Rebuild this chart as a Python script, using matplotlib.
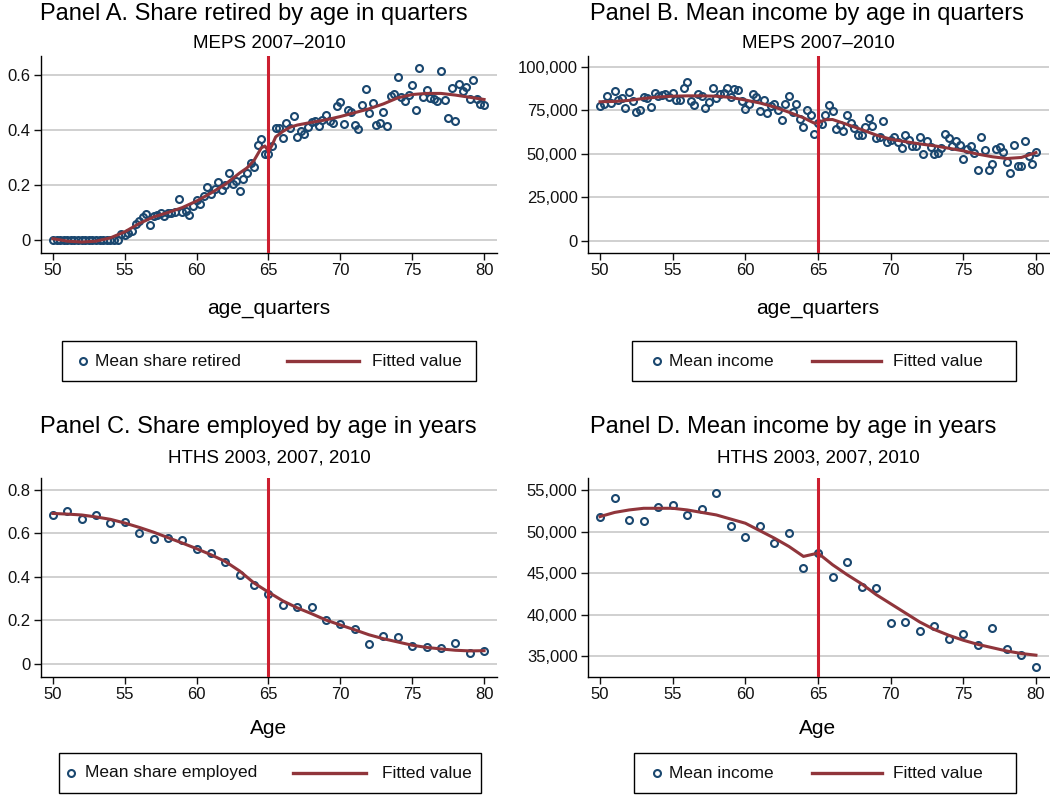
import numpy as np
import matplotlib.pyplot as plt
from matplotlib.lines import Line2D
from matplotlib.patches import Rectangle

plt.rcParams['font.family'] = ['Liberation Sans', 'DejaVu Sans']

W, H = 1050, 795
navy = '#1a476f'
fit_red = '#90353b'
cut_red = '#cc1f30'
grid_gray = '#c8c8c8'

# ---- Panel A: share retired, quarters (MEPS)
age_q = np.arange(50, 80.01, 0.25)
share_retired = [0.0, 0.0, 0.0, 0.0, 0.0, 0.0, 0.0, 0.0, 0.0, 0.0, 0.0, 0.0,
                 0.0, 0.0, 0.0, 0.0, 0.001, 0.0, 0.002, 0.023,
                 0.017, 0.027, 0.033, 0.059, 0.071, 0.084, 0.094, 0.053,
                 0.089, 0.092, 0.097, 0.086, 0.098, 0.100, 0.101, 0.150,
                 0.103, 0.107, 0.092, 0.123, 0.146, 0.132, 0.161, 0.193,
                 0.169, 0.187, 0.210, 0.181, 0.200, 0.245, 0.203, 0.214,
                 0.180, 0.223, 0.244, 0.281, 0.266, 0.346, 0.367, 0.314,
                 0.314, 0.342, 0.408, 0.408, 0.372, 0.425, 0.408, 0.451,
                 0.373, 0.398, 0.384, 0.412, 0.428, 0.433, 0.414, 0.437,
                 0.454, 0.432, 0.424, 0.488, 0.503, 0.421, 0.472, 0.467,
                 0.420, 0.404, 0.490, 0.549, 0.463, 0.497, 0.420, 0.426,
                 0.465, 0.413, 0.523, 0.530, 0.593, 0.520, 0.506, 0.526,
                 0.562, 0.471, 0.624, 0.519, 0.546, 0.517, 0.514, 0.507,
                 0.613, 0.508, 0.443, 0.552, 0.433, 0.566, 0.542, 0.558,
                 0.512, 0.583, 0.513, 0.495, 0.490]
fit_a_x = [50, 51, 52, 53, 54, 55, 56, 57, 58, 59, 60, 61, 62, 63, 63.5, 64, 64.5, 64.75,
           65, 65.25, 65.5, 66, 66.5, 67, 68, 69, 70, 71, 72, 73, 74, 75, 76, 77, 78, 79, 80]
fit_a = [0.005, -0.004, -0.007, -0.004, 0.008, 0.030, 0.060, 0.084, 0.100, 0.118, 0.142,
         0.171, 0.203, 0.244, 0.262, 0.290, 0.335, 0.342, 0.322, 0.345, 0.375, 0.395, 0.410,
         0.418, 0.428, 0.437, 0.449, 0.463, 0.477, 0.495, 0.517, 0.529, 0.533, 0.533, 0.527,
         0.519, 0.511]

# ---- Panel B: mean income, quarters (MEPS)
income_q = [77500, 78500, 83600, 79200, 86100, 81300, 81900, 76400,
            85500, 80400, 74100, 75000, 82700, 82100, 77100, 84800,
            83200, 83800, 84600, 82700, 85000, 81300, 81300, 88000,
            91200, 80400, 77900, 84600, 83200, 76400, 80000, 88000,
            81900, 84200, 85100, 88000, 82700, 87400, 86900, 80400,
            76000, 78900, 84400, 82700, 74500, 80800, 73300, 77300,
            78500, 75200, 69500, 78500, 83600, 74100, 78500, 69900,
            65500, 75000, 72400, 61700, 67800, 67200, 72200, 77900,
            74900, 64600, 66900, 63400, 72600, 67600, 65000, 61100,
            61100, 65700, 70500, 66300, 58900, 60000, 69000, 57100,
            58100, 60000, 56600, 53500, 61100, 58100, 54700, 54700,
            59600, 49700, 57300, 54100, 49700, 50700, 53500, 61500,
            59400, 54700, 57700, 55000, 47000, 53100, 54700, 50300,
            40800, 59600, 52400, 40800, 44200, 52600, 53900, 51000,
            45500, 39200, 55200, 42900, 43200, 57500, 48800, 44400,
            51200]
fit_b_x = [50, 51, 52, 53, 54, 55, 56, 57, 58, 59, 60, 61, 62, 63, 64, 64.75,
           65, 65.5, 66, 67, 68, 69, 70, 71, 72, 73, 74, 75, 76, 77, 78, 79, 80]
fit_b = [80000, 80200, 80800, 81900, 82700, 83200, 83400, 83400, 83200, 82500, 81000,
         79300, 77000, 74000, 70800, 67700, 67900, 69700, 69800, 67000, 64000, 60900,
         58500, 57100, 55800, 54700, 53300, 51800, 49900, 48400, 47400, 48000, 50800]

# ---- Panel C: share employed, years (HTHS)
age_y = np.arange(50, 81)
share_employed = [0.686, 0.704, 0.668, 0.686, 0.646, 0.654, 0.603, 0.574, 0.578, 0.571,
                  0.530, 0.509, 0.469, 0.408, 0.361, 0.322, 0.272, 0.264, 0.261, 0.200,
                  0.183, 0.160, 0.090, 0.128, 0.125, 0.084, 0.078, 0.072, 0.098, 0.050,
                  0.061]
fit_c = [0.692, 0.689, 0.685, 0.676, 0.665, 0.648, 0.628, 0.606, 0.581, 0.556, 0.530,
         0.502, 0.471, 0.427, 0.372, 0.330, 0.290, 0.258, 0.231, 0.202, 0.179, 0.157,
         0.134, 0.116, 0.101, 0.086, 0.076, 0.069, 0.063, 0.060, 0.061]

# ---- Panel D: mean income, years (HTHS)
income_y = [51800, 54000, 51400, 51300, 52900, 53200, 52000, 52700, 54700, 50700,
            49300, 50700, 48600, 49800, 45600, 47400, 44500, 46300, 43300, 43200,
            39000, 39100, 38000, 38600, 37100, 37600, 36300, 38400, 35900, 35100,
            33700]
fit_d = [51800, 52300, 52600, 52800, 52800, 52800, 52600, 52300, 52000, 51500, 51000,
         50100, 49200, 48200, 47000, 47400, 46000, 44800, 43700, 42400, 41300, 40200,
         39100, 38200, 37500, 36900, 36400, 36000, 35600, 35300, 35100]

fig = plt.figure(figsize=(10.5, 7.95), dpi=100)


def fx(x):
    return x / W


def fy(y):
    return 1 - y / H


def make_panel(left, top, right, bottom, ylim, yticks, ylabels):
    ax = fig.add_axes([fx(left), fy(bottom), (right - left) / W, (bottom - top) / H])
    ax.set_xlim(49.17, 80.9)
    ax.set_ylim(*ylim)
    ax.set_xticks([50, 55, 60, 65, 70, 75, 80])
    ax.set_yticks(yticks)
    ax.set_yticklabels(ylabels)
    ax.spines['top'].set_visible(False)
    ax.spines['right'].set_visible(False)
    for s in ['left', 'bottom']:
        ax.spines[s].set_linewidth(1.0)
    ax.tick_params(labelsize=12, length=5, width=1.0, pad=2.5, colors='#111111')
    ax.grid(axis='y', color=grid_gray, lw=1.2)
    ax.set_axisbelow(True)
    return ax


def draw(ax, x, y, fit_x, fit_y):
    ax.plot(x, y, 'o', mfc='none', mec=navy, ms=5.0, mew=1.5, zorder=3)
    ax.plot(fit_x, fit_y, color=fit_red, lw=2.2, zorder=4)
    ax.axvline(65, color=cut_red, lw=2.2, zorder=5)


def legend_box(x0, x1, y0, y1, mx, tx, lx0, lx1, ftx, label):
    fig.add_artist(Rectangle((fx(x0), fy(y1)), (x1 - x0) / W, (y1 - y0) / H,
                             transform=fig.transFigure, fill=False, ec='black', lw=1.0))
    yc = fy((y0 + y1) / 2)
    fig.add_artist(Line2D([fx(mx)], [yc], marker='o', mfc='none', mec=navy, ms=5.0, mew=1.5,
                          transform=fig.transFigure))
    fig.text(fx(tx), yc, label, va='center', ha='left', fontsize=12.5, color='#111111')
    fig.add_artist(Line2D([fx(lx0), fx(lx1)], [yc, yc], color=fit_red, lw=2.4,
                          transform=fig.transFigure))
    fig.text(fx(ftx), yc, 'Fitted value', va='center', ha='left', fontsize=12.5, color='#111111')


# Panel A
ax = make_panel(41, 56, 497, 253, (-0.047, 0.669), [0, 0.2, 0.4, 0.6], ['0', '0.2', '0.4', '0.6'])
draw(ax, age_q, share_retired, fit_a_x, fit_a)
fig.text(fx(40), fy(14), 'Panel A. Share retired by age in quarters', fontsize=17, va='center')
fig.text(fx(269), fy(44), 'MEPS 2007\u20132010', fontsize=13.5, ha='center', va='center')
fig.text(fx(269), fy(308), 'age_quarters', fontsize=15, ha='center', va='center')
legend_box(62, 476, 341, 381, 83, 95, 287, 359, 372, 'Mean share retired')

# Panel B
ax = make_panel(588, 56, 1049, 253, (-6900, 106300), [0, 25000, 50000, 75000, 100000],
                ['0', '25,000', '50,000', '75,000', '100,000'])
draw(ax, age_q, income_q, fit_b_x, fit_b)
fig.text(fx(590), fy(14), 'Panel B. Mean income by age in quarters', fontsize=17, va='center')
fig.text(fx(818), fy(44), 'MEPS 2007\u20132010', fontsize=13.5, ha='center', va='center')
fig.text(fx(818), fy(308), 'age_quarters', fontsize=15, ha='center', va='center')
legend_box(632, 1016, 341, 381, 657, 669, 812, 881, 893, 'Mean income')

# Panel C
ax = make_panel(41, 478, 497, 677, (-0.06, 0.855), [0, 0.2, 0.4, 0.6, 0.8],
                ['0', '0.2', '0.4', '0.6', '0.8'])
draw(ax, age_y, share_employed, age_y, fit_c)
fig.text(fx(40), fy(427), 'Panel C. Share employed by age in years', fontsize=17, va='center')
fig.text(fx(269), fy(458), 'HTHS 2003, 2007, 2010', fontsize=13.5, ha='center', va='center')
fig.text(fx(269), fy(728), 'Age', fontsize=15, ha='center', va='center')
legend_box(59, 481, 753, 793, 71, 85, 293, 366, 382, 'Mean share employed')

# Panel D
ax = make_panel(588, 478, 1049, 677, (32470, 56450), [35000, 40000, 45000, 50000, 55000],
                ['35,000', '40,000', '45,000', '50,000', '55,000'])
draw(ax, age_y, income_y, age_y, fit_d)
fig.text(fx(590), fy(427), 'Panel D. Mean income by age in years', fontsize=17, va='center')
fig.text(fx(818), fy(458), 'HTHS 2003, 2007, 2010', fontsize=13.5, ha='center', va='center')
fig.text(fx(818), fy(728), 'Age', fontsize=15, ha='center', va='center')
legend_box(634, 1016, 753, 793, 657, 669, 812, 882, 893, 'Mean income')

fig.savefig('out.png', dpi=100)
